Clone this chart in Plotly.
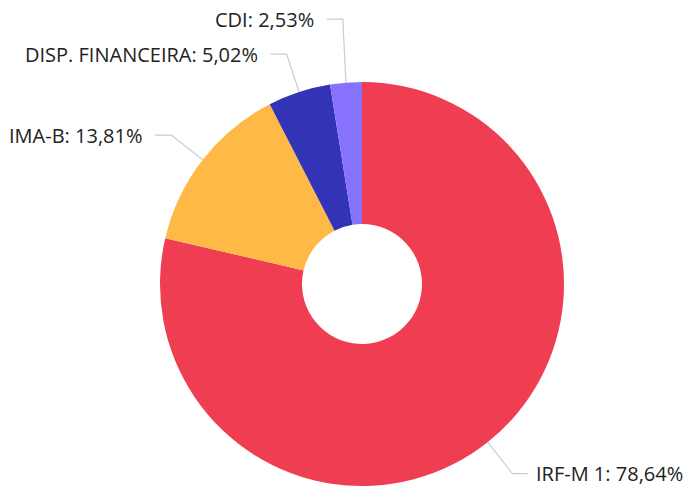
import math
import plotly.graph_objects as go

labels = ["IRF-M 1", "IMA-B", "DISP. FINANCEIRA", "CDI"]
values = [78.64, 13.81, 5.02, 2.53]
colors = ["#EF3D52", "#FFB946", "#3333B8", "#8672FF"]

W, H = 685, 489
CX, CY, R = 362, 284, 202
HOLE = 0.297
FONT = dict(family="Open Sans", size=20, color="#222222")

def px(x):
    return x / W

def py(y):
    return 1 - y / H

fig = go.Figure(go.Pie(
    labels=labels, values=values, sort=False, direction="clockwise", rotation=0,
    hole=HOLE, marker=dict(colors=colors, line=dict(width=0)),
    textinfo="none", hoverinfo="label+percent", showlegend=False,
    domain=dict(x=[px(CX - R), px(CX + R)], y=[py(CY + R), py(CY - R)]),
))

total = sum(values)
cum = 0
items = []
for lab, v in zip(labels, values):
    mid = (cum + v / 2) / total * 2 * math.pi
    cum += v
    s, c = math.sin(mid), math.cos(mid)
    ox, oy = CX + R * s, CY - R * c
    ex, ey = CX + (R + 40) * s, CY - (R + 40) * c
    items.append(dict(label=lab, v=v, ox=ox, oy=oy, ex=ex, ey=ey, right=s >= 0))

GAP = 35
for side in (True, False):
    grp = sorted([it for it in items if it["right"] == side], key=lambda d: -d["ey"])
    for i in range(1, len(grp)):
        if grp[i]["ey"] > grp[i - 1]["ey"] - GAP:
            grp[i]["ey"] = grp[i - 1]["ey"] - GAP

shapes, annotations = [], []
for it in items:
    d = 1 if it["right"] else -1
    hx = it["ex"] + d * 16
    path = "M {} {} L {} {} L {} {}".format(
        px(it["ox"]), py(it["oy"]), px(it["ex"]), py(it["ey"]), px(hx), py(it["ey"]))
    shapes.append(dict(type="path", xref="paper", yref="paper", path=path,
                       line=dict(color="#cccccc", width=1.2)))
    txt = "{}: {}%".format(it["label"], ("%.2f" % it["v"]).replace(".", ","))
    gap = 6 if it["right"] else 11
    annotations.append(dict(x=px(hx + d * gap), y=py(it["ey"]), xref="paper", yref="paper",
                            text=txt, showarrow=False, font=FONT,
                            xanchor="left" if it["right"] else "right", yanchor="middle"))

fig.update_layout(width=W, height=H, autosize=False, margin=dict(l=0, r=0, t=0, b=0),
                  paper_bgcolor="white", plot_bgcolor="white",
                  shapes=shapes, annotations=annotations)
fig.write_html("out.html", config={"displayModeBar": False},
               post_script="document.body.style.margin='0';document.body.style.overflow='hidden';")
